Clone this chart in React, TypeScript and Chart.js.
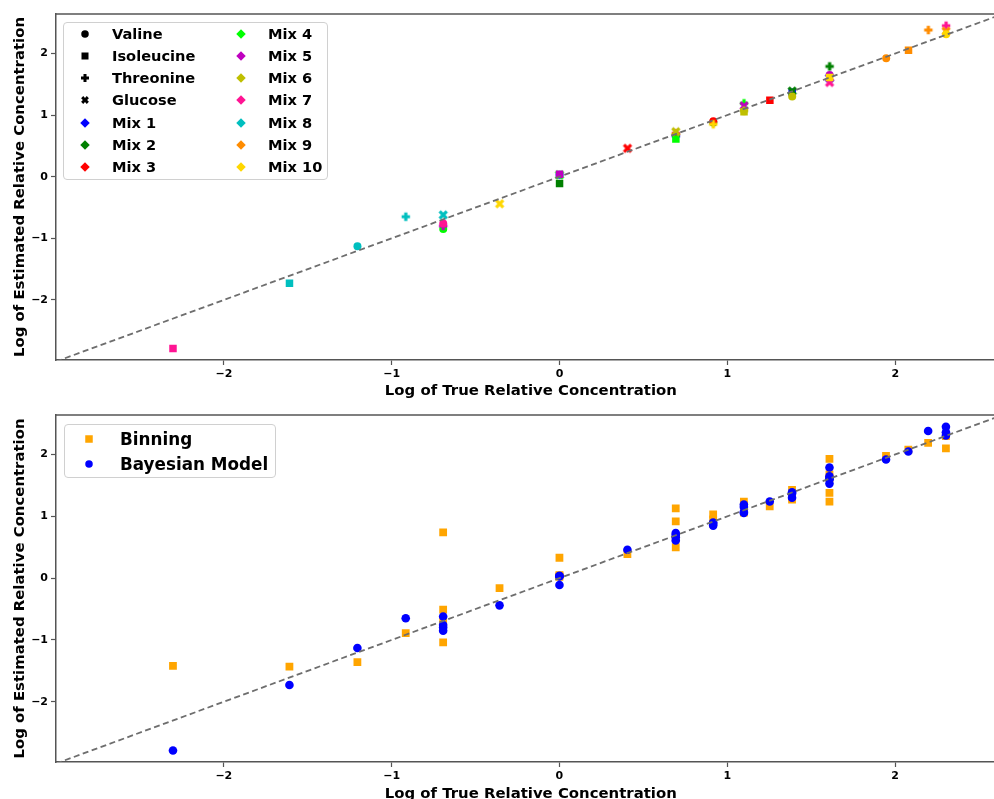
import React, { useEffect, useRef } from 'react';
import { Chart, registerables } from 'chart.js';
Chart.register(...registerables);

// ---------------- data ----------------
const compounds = ['Valine', 'Isoleucine', 'Threonine', 'Glucose'];
const mixes = ['Mix 1', 'Mix 2', 'Mix 3', 'Mix 4', 'Mix 5', 'Mix 6', 'Mix 7', 'Mix 8', 'Mix 9', 'Mix 10'];
const mixColors = ['#0000ff', '#008000', '#ff0000', '#00ff00', '#bf00bf', '#bfbf00', '#ff1493', '#00bfbf', '#ff8c00', '#ffd700'];

// log of true relative concentration, one value per mix
const valineTrue = [0, 0.916, 0.916, -0.693, 1.609, 1.386, -0.693, -1.204, 1.946, 2.303];
const isoleucineTrue = [1.386, 0, 1.253, 0.693, 0, 1.099, -2.303, -1.609, 2.079, 1.609];
const threonineTrue = [0.693, 1.609, 0.693, 1.099, -0.693, 1.099, 2.303, -0.916, 2.197, 0.916];
const glucoseTrue = [1.609, 1.386, 0.405, 0, 1.099, 0.693, 1.609, -0.693, 2.303, -0.357];

// Bayesian model estimates
const valineEst = [0.03, 0.88, 0.9, -0.85, 1.65, 1.3, -0.76, -1.13, 1.92, 2.31];
const isoleucineEst = [1.37, -0.11, 1.24, 0.61, 0.04, 1.055, -2.79, -1.73, 2.05, 1.61];
const threonineEst = [0.66, 1.79, 0.7, 1.19, -0.8, 1.07, 2.45, -0.65, 2.38, 0.85];
const glucoseEst = [1.6, 1.39, 0.46, 0.03, 1.15, 0.73, 1.53, -0.62, 2.36, -0.44];

// Binning estimates
const valineBin = [0.05, 1.03, 0.95, 0.74, 1.38, 1.27, -0.68, -1.36, 1.98, 2.32];
const isoleucineBin = [1.43, 0.02, 1.16, 0.5, 0.04, 1.1, -1.42, -1.43, 2.08, 1.62];
const threonineBin = [0.92, 1.93, 0.65, 1.24, -1.04, 1.06, 2.3, -0.89, 2.19, 0.88];
const glucoseBin = [1.68, 1.35, 0.39, 0.33, 1.18, 1.13, 1.24, -0.51, 2.1, -0.16];

const xLimits = [-3.0, 2.658];
const yLimits = [-2.975, 2.64];
const tickValues = [-2, -1, 0, 1, 2];
const xTitle = 'Log of True Relative Concentration';
const yTitle = 'Log of Estimated Relative Concentration';
const methodNames = ['Binning', 'Bayesian Model'];
const methodColors = ['#ffa500', '#0000ff'];

const trueArrays = [valineTrue, isoleucineTrue, threonineTrue, glucoseTrue];
const estArrays = [valineEst, isoleucineEst, threonineEst, glucoseEst];
const binArrays = [valineBin, isoleucineBin, threonineBin, glucoseBin];

// ---------------- helpers ----------------
const FONT = "'DejaVu Sans', sans-serif";
const SPINE = '#555555';
const CANVAS_W = 1011;

function makeMarker(kind: 'plus' | 'x', color: string): HTMLCanvasElement {
  const c = document.createElement('canvas');
  const n = 12;
  c.width = n;
  c.height = n;
  const ctx = c.getContext('2d')!;
  ctx.translate(n / 2, n / 2);
  let h = 4.2;
  const t = 1.6;
  if (kind === 'x') {
    ctx.rotate(Math.PI / 4);
    h = 5.0;
  }
  ctx.beginPath();
  ctx.moveTo(-t, -h); ctx.lineTo(t, -h); ctx.lineTo(t, -t); ctx.lineTo(h, -t);
  ctx.lineTo(h, t); ctx.lineTo(t, t); ctx.lineTo(t, h); ctx.lineTo(-t, h);
  ctx.lineTo(-t, t); ctx.lineTo(-h, t); ctx.lineTo(-h, -t); ctx.lineTo(-t, -t);
  ctx.closePath();
  ctx.fillStyle = color;
  ctx.fill();
  return c;
}

const fmt = (v: number) => (v < 0 ? '\u2212' + Math.abs(v) : String(v));

function axes(xHeight: number, titleBottomPad: number) {
  const common = {
    border: { display: true, color: SPINE, width: 1.5 },
    grid: { display: true, drawOnChartArea: false, drawTicks: true, tickLength: 5, color: SPINE, tickWidth: 1.2 },
    ticks: {
      color: '#000',
      font: { family: FONT, size: 11, weight: 'bold' as const },
      padding: 3,
      callback: (v: any) => fmt(Number(v)),
    },
    afterBuildTicks: (scale: any) => {
      scale.ticks = tickValues.map((v) => ({ value: v }));
    },
  };
  return {
    x: {
      type: 'linear' as const,
      min: xLimits[0],
      max: xLimits[1],
      ...common,
      title: { display: true, text: xTitle, color: '#000', font: { family: FONT, size: 14.9, weight: 'bold' as const }, padding: { top: 0, bottom: titleBottomPad } },
      afterFit: (scale: any) => {
        scale.height = xHeight;
        scale.paddingLeft = 0;
        scale.paddingRight = 0;
      },
    },
    y: {
      type: 'linear' as const,
      min: yLimits[0],
      max: yLimits[1],
      ...common,
      title: { display: true, text: yTitle, color: '#000', font: { family: FONT, size: 14.9, weight: 'bold' as const }, padding: { top: 11.1, bottom: 0 } },
      afterFit: (scale: any) => {
        scale.width = 56;
        scale.paddingTop = 0;
        scale.paddingBottom = 0;
      },
    },
  };
}

const topSpine = {
  id: 'topSpine',
  afterDraw(chart: any) {
    const { ctx, chartArea } = chart;
    ctx.save();
    ctx.strokeStyle = SPINE;
    ctx.lineWidth = 1.5;
    ctx.beginPath();
    ctx.moveTo(chartArea.left - 0.75, chartArea.top);
    ctx.lineTo(chartArea.right, chartArea.top);
    ctx.stroke();
    ctx.restore();
  },
};

function diagonal() {
  return {
    type: 'line' as const,
    data: [{ x: xLimits[0], y: xLimits[0] }, { x: xLimits[1], y: xLimits[1] }],
    borderColor: '#6e6e6e',
    borderWidth: 1.8,
    borderDash: [6, 3.5],
    pointRadius: 0,
    fill: false,
    order: 0,
  };
}

// ---------------- legend markers ----------------
function Marker({ kind, color, size }: { kind: string; color: string; size: number }) {
  const s = 14;
  const c = s / 2;
  let el: any = null;
  const r = size / 2;
  if (kind === 'circle') el = <circle cx={c} cy={c} r={r} fill={color} />;
  else if (kind === 'square') el = <rect x={c - r} y={c - r} width={size} height={size} fill={color} />;
  else if (kind === 'diamond') el = <polygon points={`${c},${c - r} ${c + r},${c} ${c},${c + r} ${c - r},${c}`} fill={color} />;
  else {
    const h = r;
    const t = 1.5;
    const pts = [[-t, -h], [t, -h], [t, -t], [h, -t], [h, t], [t, t], [t, h], [-t, h], [-t, t], [-h, t], [-h, -t], [-t, -t]]
      .map(([a, b]) => `${c + a},${c + b}`).join(' ');
    el = <polygon points={pts} fill={color} transform={kind === 'x' ? `rotate(45 ${c} ${c})` : undefined} />;
  }
  return (
    <svg width={s} height={s} style={{ position: 'absolute', left: -s / 2, top: -s / 2, overflow: 'visible' }}>
      {el}
    </svg>
  );
}

const compoundKinds = ['circle', 'square', 'plus', 'x'];

function LegendItem({ kind, color, size, label, mx, tx, cy, fontSize }: any) {
  return (
    <>
      <div style={{ position: 'absolute', left: mx, top: cy, width: 0, height: 0 }}>
        <Marker kind={kind} color={color} size={size} />
      </div>
      <div
        style={{
          position: 'absolute', left: tx, top: cy - 10, height: 20, lineHeight: '20px',
          fontFamily: FONT, fontWeight: 'bold', fontSize, color: '#000', whiteSpace: 'nowrap',
        }}
      >
        {label}
      </div>
    </>
  );
}

const boxStyle: any = {
  position: 'absolute',
  border: '1px solid #d0d0d0',
  borderRadius: 4,
  background: 'rgba(255,255,255,0.85)',
  boxSizing: 'border-box',
};

export default function App() {
  const topRef = useRef<HTMLCanvasElement>(null);
  const botRef = useRef<HTMLCanvasElement>(null);

  useEffect(() => {
    const plusImgs = mixColors.map((c) => makeMarker('plus', c));
    const xImgs = mixColors.map((c) => makeMarker('x', c));

    const topDatasets: any[] = mixes.map((m, i) => ({
      type: 'scatter',
      label: m,
      data: compounds.map((_, j) => ({ x: trueArrays[j][i], y: estArrays[j][i] })),
      pointStyle: ['circle', 'rect', plusImgs[i], xImgs[i]],
      pointRadius: [4, 5.3, 5, 5],
      backgroundColor: mixColors[i],
      borderColor: mixColors[i],
      borderWidth: 0,
      order: mixes.length - i,
    }));
    topDatasets.push(diagonal());

    const top = new Chart(topRef.current!, {
      type: 'scatter',
      data: { datasets: topDatasets },
      options: {
        animation: false,
        responsive: false,
        devicePixelRatio: 1,
        layout: { padding: { top: 14, left: 0, right: 0, bottom: 0 } },
        plugins: { legend: { display: false }, tooltip: { enabled: false } },
        scales: axes(40, 0.2) as any,
      },
      plugins: [topSpine],
    });

    const binData: any[] = [];
    const bayData: any[] = [];
    for (let i = 0; i < mixes.length; i++) {
      for (let j = 0; j < compounds.length; j++) {
        binData.push({ x: trueArrays[j][i], y: binArrays[j][i] });
        bayData.push({ x: trueArrays[j][i], y: estArrays[j][i] });
      }
    }

    const bot = new Chart(botRef.current!, {
      type: 'scatter',
      data: {
        datasets: [
          { type: 'scatter', label: methodNames[0], data: binData, pointStyle: 'rect', pointRadius: 5.5, backgroundColor: methodColors[0], borderWidth: 0, order: 2 } as any,
          { type: 'scatter', label: methodNames[1], data: bayData, pointStyle: 'circle', pointRadius: 4.3, backgroundColor: methodColors[1], borderWidth: 0, order: 1 } as any,
          diagonal() as any,
        ],
      },
      options: {
        animation: false,
        responsive: false,
        devicePixelRatio: 1,
        layout: { padding: { top: 15, left: 0, right: 0, bottom: 0 } },
        plugins: { legend: { display: false }, tooltip: { enabled: false } },
        scales: axes(48, 6.8) as any,
      },
      plugins: [topSpine],
    });

    return () => {
      top.destroy();
      bot.destroy();
    };
  }, []);

  const topEntries = [
    ...compounds.map((c, j) => ({ label: c, kind: compoundKinds[j], color: '#000', size: j === 0 ? 7.5 : j === 1 ? 7 : 8 })),
    ...mixes.map((m, i) => ({ label: m, kind: 'diamond', color: mixColors[i], size: 9.5 })),
  ];

  return (
    <div style={{ position: 'fixed', left: 0, top: 0, width: 994, height: 799, overflow: 'hidden', background: '#fff' }}>
      <canvas ref={topRef} width={CANVAS_W} height={400} style={{ position: 'absolute', left: 0, top: 0, display: 'block' }} />
      <canvas ref={botRef} width={CANVAS_W} height={410} style={{ position: 'absolute', left: 0, top: 400, display: 'block' }} />

      <div style={{ ...boxStyle, left: 63, top: 22, width: 265, height: 158 }}>
        {topEntries.map((e, k) => {
          const col = k < 7 ? 0 : 1;
          const row = k % 7;
          return (
            <LegendItem key={e.label} kind={e.kind} color={e.color} size={e.size} label={e.label}
              mx={col === 0 ? 21 : 177} tx={col === 0 ? 48 : 204} cy={11.3 + 22.05 * row} fontSize={14.6} />
          );
        })}
      </div>

      <div style={{ ...boxStyle, left: 64, top: 424, width: 212, height: 54 }}>
        {methodNames.map((n, k) => (
          <LegendItem key={n} kind={k === 0 ? 'square' : 'circle'} color={methodColors[k]} size={7.5} label={n}
            mx={24} tx={55} cy={13.7 + 25 * k} fontSize={16.8} />
        ))}
      </div>
    </div>
  );
}
